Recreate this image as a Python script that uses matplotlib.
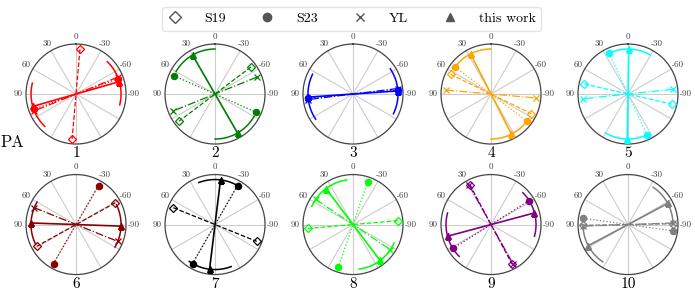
import matplotlib
matplotlib.use("Agg")
import matplotlib.pyplot as plt
import numpy as np
from matplotlib.lines import Line2D

plt.rcParams['font.family'] = 'serif'
plt.rcParams['font.serif'] = ['cmr10']
plt.rcParams['mathtext.fontset'] = 'cm'
plt.rcParams['axes.unicode_minus'] = False

# position angles (deg) per panel, None = not measured
panels = ['1', '2', '3', '4', '5', '6', '7', '8', '9', '10']
colors = ['red', 'green', 'blue', 'orange', 'cyan',
          'darkred', 'black', 'lime', 'purple', 'gray']
pa_s19 = [-5, -53, None, 64, 77, -61, 68, -85, 28, -89]
pa_s23 = [-70, 66, -85, 53, 25, -30, -30, -19, -58, 82]
pa_yl = [-68, -68, -83, 85, -84, 68, None, 56, 29, -88]
pa_tw = [-74, 30, -86, 27, -1, -92, -7, 37, -75, -62]
err_tw = [30, 30, 30, 27, 29, 28, 28, 29, 30, 28]

src_names = ['S19', 'S23', 'YL', 'this work']
src_markers = ['D', 'o', 'x', '^']
src_styles = ['--', ':', '-.', '-']

theta_labels = ['0', '30', '60', '90', '', '', '', '', '', '-90', '-60', '-30']

R = 0.9
fig = plt.figure(figsize=(6.95, 2.92), dpi=100)

cx = [0.1094, 0.3094, 0.5079, 0.7065, 0.9036]
cy = [0.678, 0.231]
w, h = 100 / 695, 100 / 292

for i, name in enumerate(panels):
    col = i % 5
    row = i // 5
    ax = fig.add_axes([cx[col] - w / 2, cy[row] - h / 2, w, h], projection='polar')
    ax.set_theta_zero_location('N')
    ax.set_theta_direction(1)
    ax.set_ylim(0, 1)
    ax.set_yticks([])
    ax.set_thetagrids(range(0, 360, 30), theta_labels, fontsize=6.5, color='#444444')
    ax.tick_params(axis='x', pad=-5)
    ax.grid(True, color='#cccccc', lw=0.8)
    ax.spines['polar'].set_color('#444444')
    ax.spines['polar'].set_linewidth(0.9)
    c = colors[i]

    vals = [pa_s19[i], pa_s23[i], pa_yl[i], pa_tw[i]]
    for k, pa in enumerate(vals):
        if pa is None:
            continue
        t = np.deg2rad(pa)
        mk = src_markers[k]
        mfc = 'none' if mk == 'D' else c
        ms = 4 if mk == 'D' else 4.5
        lw = 1.2 if k == 3 else 0.9
        ax.plot([t, t + np.pi], [R, R], ls=src_styles[k], color=c, lw=lw,
                marker=mk, ms=ms, mfc=mfc, mec=c, mew=0.9, zorder=3 + k)

    # uncertainty arcs for this work
    e = np.deg2rad(err_tw[i])
    t = np.deg2rad(pa_tw[i])
    for off in [0, np.pi]:
        th = np.linspace(t + off - e, t + off + e, 60)
        ax.plot(th, np.full_like(th, R), color=c, lw=1.1, zorder=3)

    fig.text(cx[col], cy[row] - 0.203, name, ha='center', va='center', fontsize=11)

fig.text(0.018, 0.511, 'PA', ha='center', va='center', fontsize=12)

handles = []
for k in range(4):
    mk = src_markers[k]
    handles.append(Line2D([], [], ls='none', marker=mk, color='#555555',
                          mfc='none' if mk == 'D' else '#555555', ms=6))
fig.legend(handles, src_names, loc='upper center', bbox_to_anchor=(0.506, 1.0),
           ncol=4, fontsize=10, handlelength=1, handletextpad=1.6,
           columnspacing=2.5, frameon=True, edgecolor='#dddddd', fancybox=True,
           borderpad=0.4)

fig.savefig('out.png', dpi=100)
